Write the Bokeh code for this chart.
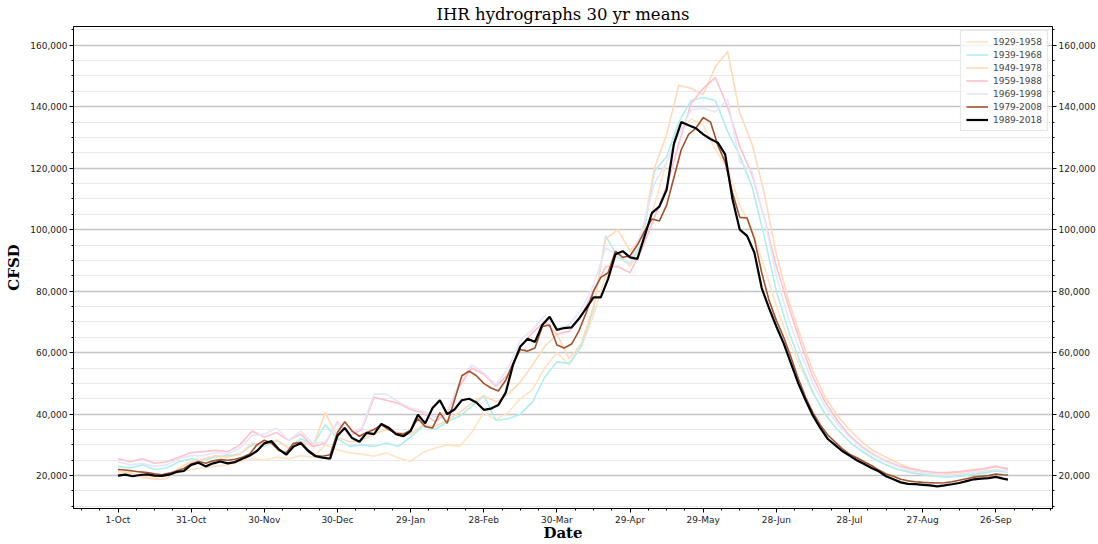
from bokeh.plotting import figure
from bokeh.models import (Range1d, FixedTicker, NumeralTickFormatter, LinearAxis,
                          Legend, LegendItem, ColumnDataSource)
from bokeh.embed import file_html
from bokeh.resources import INLINE

# ---------------- data (flow in thousands of CFSD, day 0 = 1-Oct) ----------------
DAYS3 = list(range(0, 364, 3)) + [365]
DAYS5 = list(range(0, 366, 5))

S1989_2018 = [20.0, 20.3, 19.8, 20.2, 20.4, 20.0, 19.9, 20.3, 21.2, 21.5,
              23.5, 24.2, 23.0, 24.0, 24.6, 24.0, 24.4, 25.5, 26.5, 28.0,
              30.5, 31.2, 28.5, 26.8, 29.5, 30.5, 28.0, 26.3, 25.8, 25.5,
              33.0, 35.5, 32.2, 31.0, 33.9, 33.5, 36.8, 35.6, 33.5, 32.8,
              34.5, 39.8, 37.0, 42.0, 44.5, 40.0, 41.5, 44.5, 45.0, 43.8,
              41.4, 41.8, 43.0, 47.0, 56.0, 62.0, 64.5, 63.5, 69.0, 71.7,
              67.4, 68.0, 68.2, 71.0, 74.4, 78.0, 78.0, 84.0, 92.0, 93.0,
              91.0, 90.5, 98.0, 105.5, 107.5, 113.0, 128.0, 135.0, 134.0, 133.0,
              131.0, 129.5, 128.3, 124.5, 110.0, 100.0, 98.0, 92.5, 81.0, 74.5,
              68.5, 63.0, 56.5, 50.0, 44.5, 39.5, 35.5, 32.0, 30.0, 28.0,
              26.5, 25.0, 23.8, 22.5, 21.4, 19.8, 18.8, 17.8, 17.3, 17.2,
              17.0, 16.8, 16.5, 16.8, 17.2, 17.6, 18.2, 18.8, 19.0, 19.2,
              19.6, 19.0, 18.7]

S1979_2008 = [22.0, 21.8, 21.5, 21.2, 21.0, 20.6, 20.3, 20.8, 21.5, 22.3,
              23.8, 24.6, 24.0, 24.8, 25.2, 25.0, 25.3, 26.0, 27.0, 30.0,
              31.5, 30.5, 28.2, 27.4, 30.5, 30.8, 28.4, 26.5, 26.3, 26.8,
              34.0, 37.5, 34.5, 32.8, 34.0, 35.0, 36.5, 35.0, 33.8, 33.5,
              34.8, 38.5, 36.0, 35.5, 40.5, 37.0, 44.5, 52.5, 54.0, 52.5,
              50.0, 48.5, 47.5, 51.0, 56.5, 61.0, 60.5, 61.5, 68.5, 69.0,
              62.5, 61.5, 62.8, 67.0, 73.0, 80.0, 84.5, 86.0, 93.0, 91.0,
              91.5, 95.0, 99.5, 103.5, 102.8, 108.0, 117.0, 126.0, 131.0, 133.0,
              136.5, 135.0, 127.5, 122.0, 112.0, 104.0, 103.8, 97.0, 86.0, 77.0,
              70.5, 65.0, 58.5, 51.5, 45.5, 40.5, 36.5, 33.3, 31.0, 28.8,
              27.0, 25.8, 24.5, 23.3, 21.8, 20.5, 19.8, 18.8, 18.3, 18.0,
              17.8, 17.7, 17.6, 17.7, 18.0, 18.5, 19.0, 19.5, 19.8, 20.0,
              20.5, 20.3, 20.2]

S1929_1958 = [21.0, 20.5, 20.0, 19.5, 20.0, 21.0, 22.0, 22.5, 23.0, 23.5,
              24.5, 25.5, 25.0, 26.0, 25.5, 26.5, 26.0, 30.0, 28.4, 27.4,
              27.0, 26.3, 27.4, 25.7, 24.6, 27.5, 29.0, 30.0, 29.5, 34.0,
              40.4, 38.2, 40.5, 45.0, 48.0, 55.0, 60.0, 56.0, 62.0, 72.0,
              85.0, 92.0, 88.0, 96.0, 108.0, 122.0, 132.0, 136.0, 134.0, 126.0,
              120.0, 108.0, 100.0, 88.0, 75.0, 64.0, 55.0, 47.0, 40.0, 35.0,
              31.0, 28.0, 25.5, 23.5, 22.0, 21.0, 20.5, 20.0, 20.0, 20.3,
              20.8, 21.2, 21.8, 21.0]

S1939_1968 = [23.0, 22.5, 23.5, 22.0, 22.5, 24.5, 25.5, 25.0, 26.0, 26.5,
              27.0, 30.0, 29.5, 31.5, 29.0, 32.0, 30.0, 36.5, 32.0, 29.5,
              30.0, 29.5, 30.6, 29.5, 32.5, 36.0, 35.0, 37.5, 39.3, 42.5,
              46.0, 38.0, 38.5, 40.0, 44.0, 52.0, 57.0, 56.5, 62.0, 74.0,
              98.0, 91.0, 89.0, 96.0, 119.0, 123.7, 135.0, 142.0, 143.0, 142.0,
              132.0, 124.0, 114.0, 98.0, 80.0, 67.0, 56.5, 47.0, 40.0, 35.0,
              31.0, 28.0, 25.5, 23.5, 22.0, 21.0, 20.3, 19.8, 19.5, 19.8,
              20.3, 20.8, 21.5, 21.0]

S1949_1978 = [21.5, 21.0, 19.5, 18.8, 19.0, 22.5, 24.5, 25.5, 26.5, 26.0,
              27.0, 30.5, 30.0, 31.5, 29.0, 31.0, 29.5, 40.5, 32.5, 31.0,
              31.5, 33.5, 35.0, 34.0, 33.5, 36.5, 36.0, 38.0, 40.5, 43.5,
              46.0, 44.0, 46.5, 50.5, 56.0, 62.0, 66.0, 58.0, 63.0, 75.0,
              97.0, 100.0, 93.0, 98.0, 120.0, 131.0, 147.0, 146.0, 144.0, 153.0,
              158.0, 138.0, 128.0, 112.0, 92.0, 77.0, 65.0, 54.0, 45.5, 39.5,
              35.0, 31.0, 28.0, 26.0, 24.0, 22.5, 21.5, 21.0, 20.8, 21.0,
              21.5, 22.0, 23.0, 22.0]

S1959_1988 = [25.5, 24.5, 25.5, 24.0, 24.5, 26.0, 27.5, 27.8, 28.2, 27.8,
              30.0, 34.5, 32.5, 34.0, 31.5, 33.5, 29.5, 30.5, 37.5, 33.0,
              35.0, 45.5, 44.5, 43.5, 41.5, 40.5, 37.5, 40.5, 49.0, 55.0,
              53.0, 49.0, 53.0, 62.0, 66.5, 70.0, 66.0, 67.0, 72.0, 80.0,
              88.0, 88.0, 86.0, 94.0, 104.0, 114.0, 128.0, 141.0, 146.0, 149.5,
              140.0, 127.0, 118.0, 104.0, 88.0, 75.0, 63.0, 52.0, 44.0, 38.0,
              33.0, 29.5, 26.8, 24.8, 23.2, 22.2, 21.5, 21.0, 21.0, 21.3,
              21.8, 22.3, 23.0, 22.2]

S1969_1998 = [24.5, 23.5, 24.0, 23.0, 23.5, 25.5, 26.5, 26.5, 27.5, 27.0,
              29.0, 33.0, 33.5, 35.5, 31.5, 34.5, 30.5, 31.0, 37.0, 34.0,
              35.5, 46.5, 46.5, 44.0, 42.0, 41.0, 39.0, 41.0, 50.0, 56.0,
              53.5, 49.5, 55.0, 64.0, 67.5, 72.0, 68.0, 69.0, 74.0, 82.0,
              94.0, 92.0, 89.0, 100.0, 115.0, 122.0, 131.0, 139.0, 139.5, 138.3,
              142.5, 122.0, 119.0, 104.0, 85.0, 71.0, 60.0, 50.0, 42.5, 37.0,
              32.5, 29.0, 26.5, 24.5, 23.0, 21.5, 21.0, 20.5, 20.3, 20.5,
              21.0, 21.5, 22.0, 21.5]

SERIES = [("1929-1958", DAYS5, S1929_1958, "#ffe4c4", 1.6),
          ("1939-1968", DAYS5, S1939_1968, "#afeeee", 1.6),
          ("1949-1978", DAYS5, S1949_1978, "#ffdab9", 1.6),
          ("1959-1988", DAYS5, S1959_1988, "#ffc0cb", 1.6),
          ("1969-1998", DAYS5, S1969_1998, "#e6e6fa", 1.6),
          ("1979-2008", DAYS3, S1979_2008, "#a0522d", 1.6),
          ("1989-2018", DAYS3, S1989_2018, "#000000", 2.2)]

X_TICKS = list(range(0, 361, 30))
X_LABELS = ["1-Oct", "31-Oct", "30-Nov", "30-Dec", "29-Jan", "28-Feb", "30-Mar",
            "29-Apr", "29-May", "28-Jun", "28-Jul", "27-Aug", "26-Sep"]
Y_TICKS = list(range(20000, 160001, 20000))

for name, d, v, c, w in SERIES:
    assert len(d) == len(v), name

# ---------------- figure ----------------
p = figure(width=1098, height=544, output_backend="svg", toolbar_location=None,
           x_range=Range1d(-18.25, 383.25), y_range=Range1d(9300, 166100),
           min_border=0, min_border_left=73, min_border_right=0, min_border_top=0,
           min_border_bottom=0)

p.title.text = "IHR hydrographs 30 yr means"
p.title.text_font = "DejaVu Serif"
p.title.text_font_size = "16.5px"
p.title.text_font_style = "normal"
p.title.text_color = "black"
p.title.align = "center"
p.title.offset = 0
p.title.standoff = 5

p.outline_line_color = "black"
p.outline_line_width = 1
p.background_fill_color = "white"
p.border_fill_color = "white"

items = []
for name, d, v, c, w in SERIES:
    src = ColumnDataSource(dict(x=d, y=[val * 1000 for val in v]))
    r = p.line("x", "y", source=src, line_color=c, line_width=w)
    items.append(LegendItem(label=name, renderers=[r]))

# x axis
p.xaxis.ticker = FixedTicker(ticks=X_TICKS, minor_ticks=[-15 + 7.5 * i for i in range(54)])
p.xaxis.major_label_overrides = {t: l for t, l in zip(X_TICKS, X_LABELS)}
p.xaxis.axis_label = "Date"

minor_y = list(range(10000, 166000, 5000))
yticker = FixedTicker(ticks=Y_TICKS, minor_ticks=minor_y)
p.yaxis.ticker = yticker
p.yaxis.formatter = NumeralTickFormatter(format="0,0")
p.yaxis.axis_label = "CFSD"

raxis = LinearAxis(ticker=FixedTicker(ticks=Y_TICKS, minor_ticks=minor_y),
                   formatter=NumeralTickFormatter(format="0,0"))
p.add_layout(raxis, "right")

for ax in [p.xaxis[0], p.yaxis[0], raxis]:
    ax.axis_line_color = "black"
    ax.axis_line_width = 1
    ax.major_tick_in = 0
    ax.major_tick_out = 4
    ax.minor_tick_in = 0
    ax.minor_tick_out = 2
    ax.major_tick_line_color = "black"
    ax.minor_tick_line_color = "black"
    ax.major_label_text_font = "DejaVu Sans"
    ax.major_label_text_font_size = "9px"
    ax.major_label_text_color = "#222222"
    ax.major_label_text_line_height = 1.0
    ax.major_label_standoff = 2
    ax.axis_label_text_font = "DejaVu Serif"
    ax.axis_label_text_font_size = "15px"
    ax.axis_label_text_font_style = "bold"
    ax.axis_label_text_color = "black"
    ax.axis_label_text_line_height = 1.0
    ax.axis_label_standoff = 4

p.xaxis[0].axis_label_standoff = -4
raxis.axis_label_standoff = 0

p.xgrid.visible = False
p.ygrid.ticker = yticker
p.ygrid.grid_line_color = "#c4c4c4"
p.ygrid.grid_line_width = 1.4
p.ygrid.minor_grid_line_color = "#e9e9e9"
p.ygrid.minor_grid_line_width = 1

legend = Legend(items=items, location="top_right")
legend.label_text_font = "DejaVu Sans"
legend.label_text_font_size = "9px"
legend.label_height = 11
legend.glyph_height = 11
legend.glyph_width = 22
legend.spacing = 2
legend.padding = 5
legend.margin = 4
legend.border_line_color = "#cccccc"
legend.background_fill_alpha = 0.8
p.add_layout(legend)

open("out.html", "w").write(file_html(p, INLINE))
